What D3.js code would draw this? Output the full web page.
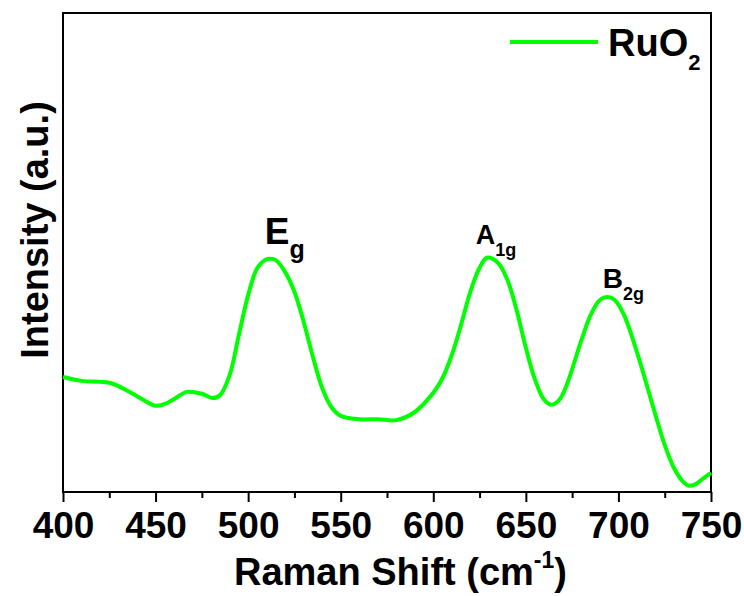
<!DOCTYPE html>
<html>
<head>
<meta charset="utf-8">
<script src="https://cdn.jsdelivr.net/npm/d3@7"></script>
<style>
  body { margin: 0; background: #fff; }
  text { font-family: "Liberation Sans", Arial, sans-serif; font-weight: bold; fill: #000; }
</style>
</head>
<body>
<div id="chart"></div>
<script>
var svgWidth = 744;
var svgHeight = 596;

var margin = { top: 13, right: 33, bottom: 104, left: 63 };
var width = svgWidth - margin.left - margin.right;
var height = svgHeight - margin.top - margin.bottom;

// Raman spectrum (cm-1, a.u.)
var shift = [400, 410, 420, 425, 430, 440, 450, 455, 460, 467, 475, 481, 485, 490, 495,
  500, 505, 510, 512, 515, 520, 525, 530, 535, 540, 545, 550, 560, 570, 580, 590,
  600, 605, 610, 615, 620, 625, 629, 635, 640, 645, 650, 655, 660, 664, 668, 672,
  680, 685, 690, 694, 698, 703, 710, 720, 725, 730, 735, 738, 742, 746, 750];
var intensity = [24.0, 23.2, 23.0, 22.8, 22.1, 20.0, 18.0, 18.4, 19.4, 20.9, 20.5, 19.6, 20.3, 24.4, 32.8,
  41.1, 46.8, 48.6, 48.7, 48.4, 45.9, 41.8, 35.5, 28.2, 21.7, 17.7, 15.9, 15.2, 15.2, 15.0, 16.7,
  20.7, 23.8, 28.6, 34.9, 41.8, 46.8, 48.9, 47.8, 44.3, 38.0, 30.1, 23.4, 19.2, 18.2, 19.2, 22.3,
  31.7, 37.0, 40.1, 40.7, 40.1, 37.0, 29.2, 16.1, 9.8, 5.0, 2.1, 1.3, 1.7, 2.9, 4.0];

var xTicks = [400, 450, 500, 550, 600, 650, 700, 750];

// peak labels: main letter, subscript, position (cm-1, a.u.)
var peakNames = ["E", "A", "B"];
var peakSubs = ["g", "1g", "2g"];
var peakX = [509, 623, 691.5];
var peakY = [51.8, 51.8, 42.5];

var data = shift.map((s, i) => ({ x: s, y: intensity[i] }));

var svg = d3.select("#chart")
  .append("svg")
  .attr("width", svgWidth)
  .attr("height", svgHeight);

var chartGroup = svg.append("g")
  .attr("transform", `translate(${margin.left}, ${margin.top})`);

var xLinearScale = d3.scaleLinear().domain([400, 750]).range([0, width]);
var yLinearScale = d3.scaleLinear().domain([0, 100]).range([height, 0]);

// minor ticks every 25
var bottomMinor = d3.axisBottom(xLinearScale)
  .tickValues(d3.range(425, 750, 50))
  .tickSize(6)
  .tickFormat("");
chartGroup.append("g")
  .attr("transform", `translate(0, ${height})`)
  .call(bottomMinor)
  .call(g => g.select(".domain").remove())
  .call(g => g.selectAll("line").attr("stroke", "#000").attr("stroke-width", 2));

var bottomAxis = d3.axisBottom(xLinearScale)
  .tickValues(xTicks)
  .tickSize(10)
  .tickPadding(10)
  .tickFormat(d3.format("d"));
var xAxis = chartGroup.append("g")
  .attr("transform", `translate(0, ${height})`)
  .call(bottomAxis);
xAxis.select(".domain").remove();
xAxis.selectAll("line").attr("stroke", "#000").attr("stroke-width", 2);
xAxis.selectAll("text")
  .attr("font-family", "Liberation Sans, Arial, sans-serif")
  .attr("font-weight", "bold")
  .attr("font-size", 37)
  .attr("fill", "#000");

// frame
chartGroup.append("rect")
  .attr("width", width)
  .attr("height", height)
  .attr("fill", "none")
  .attr("stroke", "#000")
  .attr("stroke-width", 2);

// spectrum
var line = d3.line()
  .x(d => xLinearScale(d.x))
  .y(d => yLinearScale(d.y))
  .curve(d3.curveCatmullRom.alpha(0.5));

chartGroup.append("path")
  .datum(data)
  .attr("d", line)
  .attr("fill", "none")
  .attr("stroke", "#00ff00")
  .attr("stroke-width", 4)
  .attr("stroke-linejoin", "round");

// peak labels
var mainSize = [37, 27, 28];
var subSize = [25, 18, 18];
peakNames.forEach(function(n, i) {
  var t = chartGroup.append("text")
    .attr("x", xLinearScale(peakX[i]))
    .attr("y", yLinearScale(peakY[i]))
    .attr("font-size", mainSize[i])
    .text(n);
  t.append("tspan")
    .attr("font-size", subSize[i])
    .attr("dy", i === 0 ? 14 : 12)
    .text(peakSubs[i]);
});

// legend
var legend = chartGroup.append("g")
  .attr("transform", `translate(${width - 201}, 29)`);
legend.append("line")
  .attr("x1", 0).attr("x2", 88)
  .attr("y1", 0).attr("y2", 0)
  .attr("stroke", "#00ff00")
  .attr("stroke-width", 4);
var lt = legend.append("text")
  .attr("x", 98)
  .attr("y", 14)
  .attr("font-size", 38)
  .text("RuO");
lt.append("tspan")
  .attr("font-size", 22)
  .attr("dy", 14)
  .text("2");

// axis titles
svg.append("text")
  .attr("transform", `translate(48, ${margin.top + 217}) rotate(-90)`)
  .attr("text-anchor", "middle")
  .attr("font-size", 38)
  .text("Intensity (a.u.)");

var xt = svg.append("text")
  .attr("x", 234)
  .attr("y", 585)
  .attr("font-size", 38)
  .text("Raman Shift (cm");
xt.append("tspan")
  .attr("font-size", 23)
  .attr("dy", -17)
  .text("-1");
xt.append("tspan")
  .attr("dy", 17)
  .text(")");
</script>
</body>
</html>
